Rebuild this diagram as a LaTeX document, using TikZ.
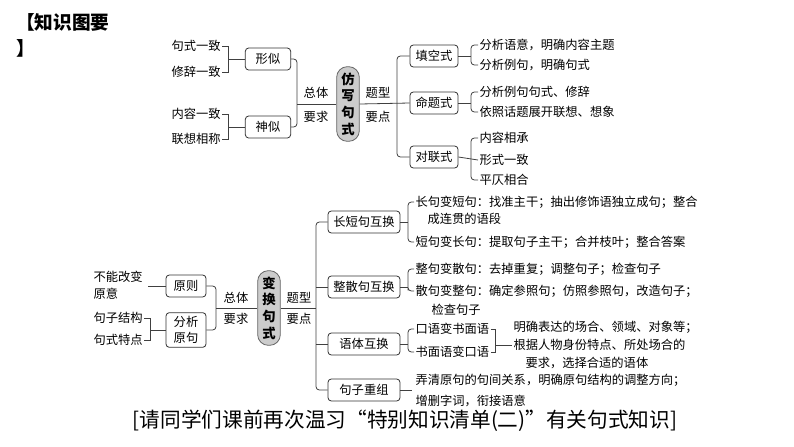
\documentclass[tikz,border=0pt]{standalone}
\usepackage{fontspec}
\setmainfont{Noto Sans CJK SC}
\usetikzlibrary{calc}
\begin{document}
\begin{tikzpicture}[x=0.75pt,y=-0.75pt,
  font=\fontsize{9.2}{11}\selectfont,
  conn/.style={draw=black!75,line width=0.6pt,rounded corners=2.5pt},
  box/.style={draw=black!80,line width=0.6pt,rounded corners=2.5pt,inner sep=2pt,minimum height=16.5pt,align=center},
  pill/.style={draw=black!60,fill=black!20,line width=0.6pt,rounded corners=8pt,inner sep=0pt,minimum width=17pt,align=center,font=\fontsize{10}{12.5}\selectfont\bfseries},
  txt/.style={anchor=west,inner sep=1pt},
  lbl/.style={inner sep=0pt}]
\useasboundingbox (0,0) rectangle (794,447);
% title
\node[anchor=west,font=\fontsize{14}{16}\selectfont\bfseries,inner sep=0] (title) at (16,22) {【知识图要};
\node[anchor=west,font=\fontsize{14}{16}\selectfont\bfseries,inner sep=0] (title2) at (16,48) {】};
% ===== top =====
\node[pill,minimum height=56pt] (p1) at (348,104) {仿\\写\\句\\式};
\node[box,minimum width=34pt] (xs) at (268,59) {形似};
\node[box,minimum width=34pt] (ss) at (268,127) {神似};
\node[txt] (a1) at (170,46) {句式一致};
\node[txt] (a2) at (170,72) {修辞一致};
\node[txt] (a3) at (170,114) {内容一致};
\node[txt] (a4) at (170,139) {联想相称};
\draw[conn,rounded corners=0] (a1.east) -- ++(6,0) coordinate(c1) -- (c1|-a2.east) -- (a2.east);
\draw[conn,rounded corners=0] (c1|-xs.west) -- (xs.west);
\draw[conn,rounded corners=0] (a3.east) -- ++(6,0) coordinate(c2) -- (c2|-a4.east) -- (a4.east);
\draw[conn,rounded corners=0] (c2|-ss.west) -- (ss.west);
\draw[conn] (xs.east) -| (297,104) |- (ss.east);
\draw[conn] (297,104) -- (p1.west);
\node[lbl] (l1) at (316,93) {总体};
\node[lbl] (l2) at (316,117) {要求};
\node[lbl] (l3) at (378,93) {题型};
\node[lbl] (l4) at (378,117) {要点};
\node[box,minimum width=36pt] (tk) at (434,56) {填空式};
\node[box,minimum width=36pt] (mt) at (434,103) {命题式};
\node[box,minimum width=36pt] (dl) at (434,157) {对联式};
\draw[conn] (tk.west) -| (397,104) |- (dl.west);
\draw[conn] (p1.east) -- (mt.west);
\node[txt] (t1) at (478,45) {分析语意，明确内容主题};
\node[txt] (t2) at (478,65) {分析例句，明确句式};
\node[txt] (t3) at (478,92) {分析例句句式、修辞};
\node[txt] (t4) at (478,112) {依照话题展开联想、想象};
\node[txt] (t5) at (478,138) {内容相承};
\node[txt] (t6) at (478,160) {形式一致};
\node[txt] (t7) at (478,180) {平仄相合};
\draw[conn] (t1.west) -| (471,56) |- (t2.west); \draw[conn] (tk.east) -- (471,56);
\draw[conn] (t3.west) -| (471,103) |- (t4.west); \draw[conn] (mt.east) -- (471,103);
\draw[conn] (t5.west) -| (471,160) |- (t7.west); \draw[conn] (dl.east) -- (t6.west);
% ===== bottom =====
\node[pill,minimum height=56pt] (p2) at (269,308) {变\\换\\句\\式};
\node[box,minimum width=30pt] (yz) at (186,286) {原则};
\node[box,minimum width=30pt,minimum height=26pt,font=\fontsize{9.2}{12}\selectfont] (fx) at (186,330) {分析\\原句};
\node[txt,align=left,font=\fontsize{9.2}{12.5}\selectfont] (b1) at (92,285) {不能改变\\原意};
\node[txt] (b2) at (92,318) {句子结构};
\node[txt] (b3) at (92,340) {句式特点};
\draw[conn,rounded corners=0] (b1.east|-yz.west) ++(4,0) -- (yz.west);
\draw[conn,rounded corners=0] (b2.east) -- ++(6,0) coordinate(c3) -- (c3|-b3.east) -- (b3.east);
\draw[conn,rounded corners=0] (c3|-fx.west) -- (fx.west);
\draw[conn] (yz.east) -| (216,308) |- (fx.east);
\draw[conn] (216,308) -- (p2.west);
\node[lbl] (l5) at (236,298) {总体};
\node[lbl] (l6) at (236,319) {要求};
\node[lbl] (l7) at (299,298) {题型};
\node[lbl] (l8) at (299,319) {要点};
\node[box,minimum width=54pt] (cd) at (364,222) {长短句互换};
\node[box,minimum width=54pt] (zs) at (364,287) {整散句互换};
\node[box,minimum width=54pt] (yt) at (364,344) {语体互换};
\node[box,minimum width=54pt] (cz) at (364,390) {句子重组};
\draw[conn] (cd.west) -| (316,308) |- (cz.west);
\draw[conn] (p2.east) -- (316,308);
\draw[conn] (316,287) -- (zs.west);
\draw[conn] (316,344) -- (yt.west);
\node[txt] (s1) at (414,202) {长句变短句：找准主干；抽出修饰语独立成句；整合};
\node[txt] (s1b) at (426,219) {成连贯的语段};
\node[txt] (s2) at (414,242) {短句变长句：提取句子主干；合并枝叶；整合答案};
\draw[conn] (s1.west) -| (408,222) |- (s2.west); \draw[conn] (cd.east) -- (408,222);
\node[txt] (s3) at (414,269) {整句变散句：去掉重复；调整句子；检查句子};
\node[txt] (s4) at (414,291) {散句变整句：确定参照句；仿照参照句，改造句子；};
\node[txt] (s4b) at (430,310) {检查句子};
\draw[conn] (s3.west) -| (408,287) |- (s4.west); \draw[conn] (zs.east) -- (408,287);
\node[txt] (s5) at (414,329) {口语变书面语};
\node[txt] (s6) at (414,352) {书面语变口语};
\draw[conn] (s5.west) -| (408,344) |- (s6.west); \draw[conn] (yt.east) -- (408,344);
\draw[conn,rounded corners=0] (s5.east) -- ++(5,0) coordinate(c4) -- (c4|-s6.east) -- (s6.east);
\node[txt] (s7) at (512,327) {明确表达的场合、领域、对象等；};
\node[txt] (s8) at (512,345) {根据人物身份特点、所处场合的};
\node[txt] (s9) at (524,363) {要求，选择合适的语体};
\draw[conn,rounded corners=0] (c4|-s8.west) -- (s8.west);
\node[txt] (s10) at (414,380) {弄清原句的句间关系，明确原句结构的调整方向；};
\node[txt] (s11) at (414,401) {增删字词，衔接语意};
\draw[conn] (cz.east) -- (412,390);
% caption
\node[font=\fontsize{15.5}{18}\selectfont,inner sep=0] (cap) at (405,421) {[请同学们课前再次温习“特别知识清单(二)”有关句式知识]};
\end{tikzpicture}
\end{document}
